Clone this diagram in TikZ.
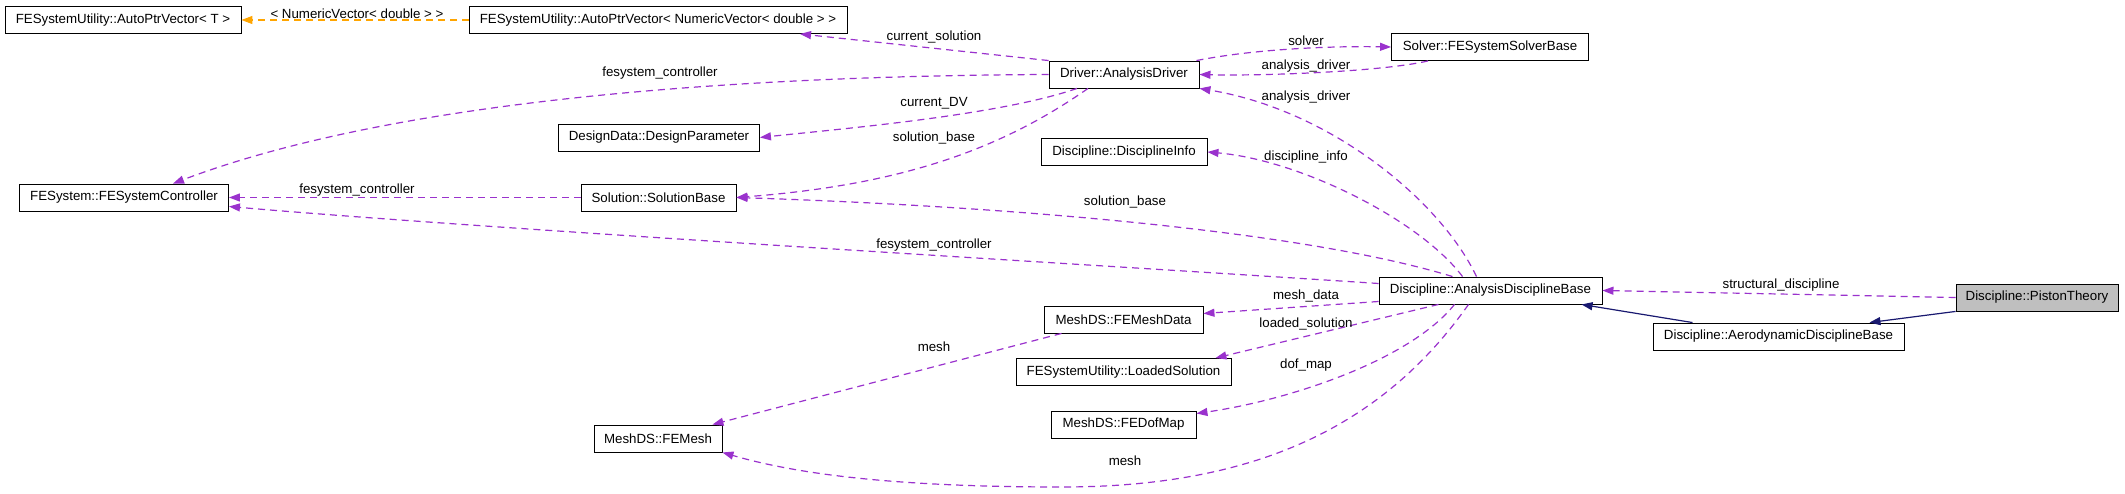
\documentclass[tikz,border=0pt]{standalone}
\usepackage{fontspec}
\setmainfont{Liberation Sans}
\usepackage{tikz}
\usepackage{xcolor}
\usetikzlibrary{arrows.meta}

\definecolor{memberpurple}{HTML}{9A32CD}
\definecolor{templorange}{HTML}{FFA500}
\definecolor{inheritnavy}{HTML}{191970}
\definecolor{focusgray}{HTML}{BFBFBF}

\tikzset{
    classbox/.style={draw=black, line width=0.9pt, minimum height=27pt, inner sep=0pt,
        font=\fontsize{13.3}{16}\selectfont},
    usage/.style={memberpurple, line width=1.2pt, dash pattern=on 7pt off 5pt,
        -{Triangle[length=11pt,width=8pt]}},
    tmpl/.style={templorange, line width=1.2pt, dash pattern=on 7pt off 5pt,
        -{Triangle[length=11pt,width=8pt]}},
    inherit/.style={inheritnavy, line width=1.2pt, -{Triangle[length=11pt,width=8pt]}},
    edgelabel/.style={inner sep=0pt, font=\fontsize{13.3}{16}\selectfont}
}

\begin{document}
\begin{tikzpicture}[x=1pt, y=-1pt]

        \useasboundingbox (0, 0) rectangle (2125, 494);

        \node[classbox, minimum width=236pt] (autoT) at (123, 20) {FESystemUtility::AutoPtrVector< T >};
        \node[classbox, minimum width=378pt] (autoNum) at (658, 20) {FESystemUtility::AutoPtrVector< NumericVector< double > >};
        \node[classbox, minimum width=150pt] (driver) at (1124, 74.5) {Driver::AnalysisDriver};
        \node[classbox, minimum width=197pt] (solver) at (1490, 47) {Solver::FESystemSolverBase};
        \node[classbox, minimum width=201pt] (designPar) at (659, 137.5) {DesignData::DesignParameter};
        \node[classbox, minimum width=166pt] (discInfo) at (1124, 152) {Discipline::DisciplineInfo};
        \node[classbox, minimum width=209pt] (fesc) at (124, 197.5) {FESystem::FESystemController};
        \node[classbox, minimum width=155pt] (solBase) at (658.5, 197.5) {Solution::SolutionBase};
        \node[classbox, minimum width=223pt] (adb) at (1490.5, 290.5) {Discipline::AnalysisDisciplineBase};
        \node[classbox, minimum width=162pt, fill=focusgray] (piston) at (2037, 297.5) {Discipline::PistonTheory};
        \node[classbox, minimum width=251pt] (aeroBase) at (1778.5, 336.5) {Discipline::AerodynamicDisciplineBase};
        \node[classbox, minimum width=159pt] (meshData) at (1123.5, 319.5) {MeshDS::FEMeshData};
        \node[classbox, minimum width=215pt] (loadedSol) at (1123.5, 372) {FESystemUtility::LoadedSolution};
        \node[classbox, minimum width=145pt] (dofMap) at (1123.5, 424.5) {MeshDS::FEDofMap};
        \node[classbox, minimum width=128pt] (feMesh) at (658, 438.5) {MeshDS::FEMesh};

        \draw[tmpl] (autoNum.west) -- (autoT.east);
        \draw[usage] (driver.north west) -- ([xshift=142pt]autoNum.south);
        \draw[usage] (driver.west) .. controls (700, 76) and (380, 105) .. ([xshift=49pt]fesc.north);
        \draw[usage] ([xshift=-47pt]driver.south) .. controls (1000, 115) and (850, 128) .. (designPar.east);
        \draw[usage] ([xshift=-36pt]driver.south) .. controls (1000, 150) and (900, 185) .. (solBase.east);
        \draw[usage] (solBase.west) -- (fesc.east);
        \draw[usage] ([yshift=7pt]adb.west) .. controls (1100, 265) and (500, 230) .. ([yshift=-9pt]fesc.east);
        \draw[usage] ([xshift=-38pt]adb.north) .. controls (1300, 230) and (1000, 206) .. (solBase.east);
        \draw[usage] ([xshift=-3pt]driver.north east) .. controls (1260, 48) and (1340, 46) .. (solver.west);
        \draw[usage] ([xshift=-62pt]solver.south) .. controls (1380, 72) and (1260, 76) .. (driver.east);
        \draw[usage] ([xshift=-14pt]adb.north) .. controls (1440, 200) and (1330, 110) .. (driver.south east);
        \draw[usage] ([xshift=-28pt]adb.north) .. controls (1420, 220) and (1300, 160) .. (discInfo.east);
        \draw[usage] ([yshift=-11pt]adb.west) -- ([yshift=6pt]meshData.east);
        \draw[usage] ([xshift=-52pt]adb.south) -- ([xshift=-16pt]loadedSol.north east);
        \draw[usage] ([xshift=-36pt]adb.south) .. controls (1410, 360) and (1290, 400) .. ([yshift=11pt]dofMap.east);
        \draw[usage] ([xshift=-22pt]adb.south) .. controls (1380, 430) and (1250, 487) .. (1062, 487)
            .. controls (900, 487) and (800, 475) .. (feMesh.south east);
        \draw[usage] ([xshift=-62pt]meshData.south) -- ([xshift=-10pt]feMesh.north east);
        \draw[usage] (piston.west) -- (adb.east);
        \draw[inherit] ([xshift=-86pt]aeroBase.north) -- ([xshift=91pt]adb.south);
        \draw[inherit] (piston.south west) -- ([xshift=-35pt]aeroBase.north east);

        \node[edgelabel] (lblTmpl) at (357, 14) {< NumericVector< double > >};
        \node[edgelabel] (lblCurSol) at (934, 37) {current\_solution};
        \node[edgelabel] (lblCtrlA) at (660, 73) {fesystem\_controller};
        \node[edgelabel] (lblCurDV) at (934, 103) {current\_DV};
        \node[edgelabel] (lblSolA) at (934, 138) {solution\_base};
        \node[edgelabel] (lblCtrlB) at (357, 190) {fesystem\_controller};
        \node[edgelabel] (lblCtrlC) at (934, 245) {fesystem\_controller};
        \node[edgelabel] (lblSolB) at (1125, 202) {solution\_base};
        \node[edgelabel] (lblSolver) at (1306, 41) {solver};
        \node[edgelabel] (lblDrvA) at (1306, 66) {analysis\_driver};
        \node[edgelabel] (lblDrvB) at (1306, 97) {analysis\_driver};
        \node[edgelabel] (lblInfo) at (1306, 157) {discipline\_info};
        \node[edgelabel] (lblMeshData) at (1306, 296) {mesh\_data};
        \node[edgelabel] (lblLoaded) at (1306, 324) {loaded\_solution};
        \node[edgelabel] (lblDof) at (1306, 365) {dof\_map};
        \node[edgelabel] (lblMeshA) at (934, 347) {mesh};
        \node[edgelabel] (lblMeshB) at (1125, 461) {mesh};
        \node[edgelabel] (lblStruct) at (1781, 285) {structural\_discipline};

    \end{tikzpicture}
\end{document}
